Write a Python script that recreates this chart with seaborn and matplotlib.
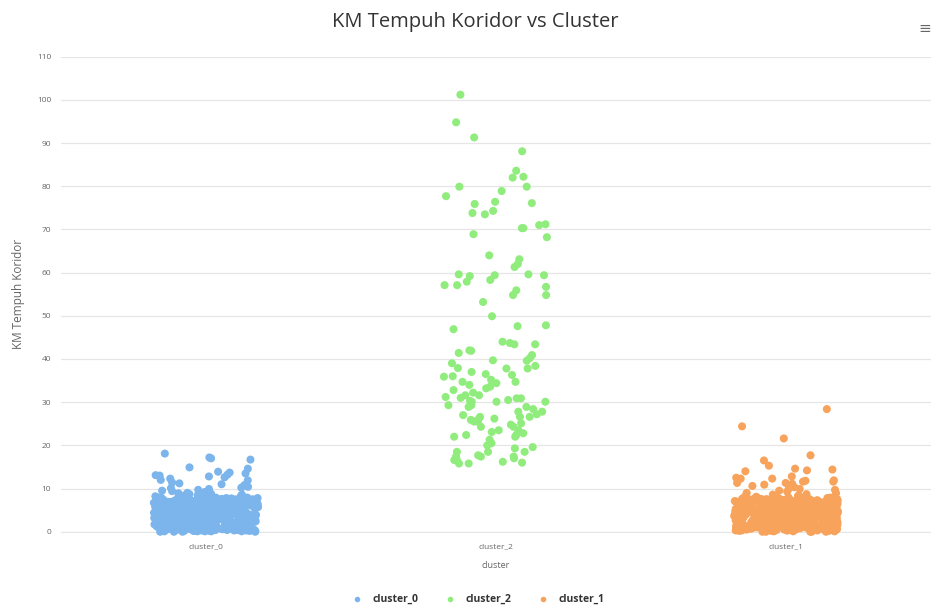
import numpy as np
import pandas as pd
import seaborn as sns
import matplotlib.pyplot as plt
from matplotlib.lines import Line2D

# urutan kategori dan warna (default Highcharts)
kategori = ["cluster_0", "cluster_2", "cluster_1"]
warna = ["#7cb5ec", "#90ed7d", "#f7a35c"]

# cluster_0 : pita padat 0-8 km, lalu beberapa titik di atasnya
km_cluster_0 = [
    0.1, 3.4, 5.9, 1.8, 7.2, 2.6, 4.8, 0.7, 6.5, 3.1, 1.2, 5.3, 7.6, 2.2, 4.1, 0.4, 6.1, 3.8, 1.5, 5.7,
    2.9, 7.0, 0.9, 4.5, 6.8, 1.9, 3.6, 5.1, 0.2, 7.4, 2.4, 4.9, 6.3, 1.1, 3.3, 5.5, 0.6, 7.7, 2.7, 4.3,
    6.0, 1.4, 3.9, 5.8, 0.3, 7.1, 2.1, 4.6, 6.6, 1.7, 3.5, 5.2, 0.8, 7.5, 2.5, 4.0, 6.4, 1.0, 3.0, 5.6,
    0.5, 7.3, 2.8, 4.4, 6.9, 1.6, 3.7, 5.0, 0.0, 7.8, 2.3, 4.7, 6.2, 1.3, 3.2, 5.4, 0.9, 7.2, 2.0, 4.2,
    5.1, 0.8, 6.7, 3.3, 1.9, 7.5, 4.0, 2.6, 6.1, 0.4, 5.6, 3.8, 1.1, 7.0, 4.5, 2.2, 6.8, 0.6, 5.3, 3.6,
    1.7, 6.3, 4.1, 0.2, 7.7, 2.9, 5.8, 1.4, 3.1, 6.6, 0.7, 4.8, 7.3, 2.4, 5.0, 1.0, 3.9, 6.0, 0.3, 7.4,
    4.6, 2.0, 7.1, 5.5, 0.9, 3.4, 6.4, 1.8, 4.3, 7.6, 2.7, 0.5, 5.9, 3.0, 6.9, 1.2, 4.9, 7.9, 2.1, 5.2,
    3.7, 6.2, 1.5, 4.4, 7.8, 0.1, 5.7, 2.8, 6.5, 3.5, 1.6, 7.2, 4.7, 0.8, 6.1, 2.5, 5.4, 1.3, 7.0, 3.2,
    0.6, 4.2, 6.9, 2.3, 5.0, 7.4, 1.9, 3.8, 0.4, 6.7, 4.5, 2.0, 7.7, 5.3, 1.1, 3.6, 6.3, 0.2, 4.8, 7.1,
    2.6, 5.8, 0.9, 7.5, 3.3, 1.4, 6.0, 4.1, 7.3, 2.2, 0.7, 5.5, 3.9, 6.6, 1.8, 7.8, 4.4, 2.9, 0.3, 6.2,
    5.6, 1.0, 3.1, 6.8, 0.5, 4.6, 7.6, 2.4, 5.1, 1.5, 6.4, 3.4, 0.0, 7.0, 4.0, 2.7, 5.9, 1.2, 6.7, 3.7,
    7.2, 3.0, 5.3, 1.7, 6.5, 4.3, 0.8, 7.9, 2.1, 4.9, 6.1, 0.6, 3.5, 5.7, 2.3, 7.4, 1.6, 4.7, 6.9, 0.4,
    1.3, 4.0, 6.6, 0.1, 3.2, 5.5, 7.1, 1.9, 4.2, 6.3, 2.8, 7.7, 0.9, 5.0, 3.6, 6.0, 1.4, 7.5, 2.5, 5.8,
    3.9, 7.3, 0.7, 5.2, 2.0, 6.8, 4.5, 1.1, 7.0, 3.3, 5.6, 0.3, 6.2, 2.6, 4.8, 1.7, 7.6, 3.1, 5.4, 0.5,
    0.2, 2.1, 4.3, 6.5, 7.7, 1.0, 3.2, 5.4, 7.3, 0.6, 2.8, 4.9, 6.1, 1.5, 3.7, 5.8, 7.0, 0.4, 2.5, 4.6,
    6.8, 1.3, 3.5, 5.6, 7.5, 0.8, 2.9, 4.0, 6.3, 1.8, 3.1, 5.2, 7.8, 0.1, 2.2, 4.4, 6.6, 1.6, 3.8, 5.0,
    7.4, 0.5, 2.6, 4.8, 6.0, 1.1, 3.4, 5.5, 7.1, 0.3, 2.0, 4.2, 6.4, 1.9, 3.6, 5.9, 7.6, 0.7, 2.4, 4.7,
    5.3, 6.7, 1.4, 3.0, 4.5, 0.9, 2.7, 6.2, 7.2, 1.2, 3.9, 5.1, 0.0, 2.3, 4.1, 6.9, 7.9, 1.7, 3.3, 5.7,
    3.6, 5.0, 7.0, 0.2, 1.8, 4.4, 6.1, 2.6, 7.5, 0.8, 3.1, 5.4, 6.6, 1.3, 2.9, 4.7, 7.3, 0.5, 2.0, 6.0,
    1.9, 4.1, 5.8, 7.7, 0.4, 3.3, 6.4, 2.2, 4.9, 0.7, 6.8, 1.5, 3.7, 5.2, 7.1, 0.1, 2.8, 4.5, 6.2, 1.0,
    4.8, 7.2, 0.9, 2.5, 5.6, 3.5, 1.2, 6.7, 4.0, 7.8, 2.1, 0.3, 5.3, 3.0, 6.3, 1.6, 4.3, 7.4, 2.7, 5.9,
    2.3, 0.6, 6.9, 4.6, 1.4, 7.6, 3.8, 5.1, 0.0, 2.9, 6.5, 4.2, 1.1, 7.0, 3.4, 5.7, 0.8, 2.4, 6.1, 3.9,
    6.4, 3.2, 1.7, 5.5, 7.3, 2.0, 4.4, 0.4, 6.8, 3.6, 1.3, 5.0, 7.7, 2.6, 0.9, 4.7, 6.0, 1.8, 3.1, 7.1,
    0.7, 5.3, 3.0, 7.5, 2.2, 6.6, 1.0, 4.9, 3.3, 5.8, 0.2, 7.2, 4.1, 1.5, 6.2, 2.8, 5.5, 0.6, 7.9, 4.3,
    8.1, 8.4, 8.7, 9.0, 8.3, 9.4, 8.9, 10.1, 8.2, 9.7, 8.6, 10.4, 9.2, 8.5, 10.8, 9.9, 8.8, 11.0, 9.5, 10.2,
    18.1, 17.2, 16.7, 17.0, 14.9, 13.7, 14.6, 13.9, 13.0, 13.5, 13.1, 12.6, 11.9, 12.3, 12.8, 13.2, 11.4, 11.2, 12.0,
]

# cluster_2 : tersebar 15-101 km
km_cluster_2 = [
    101.2, 94.8, 91.3, 88.1, 83.6, 82.2, 82.0, 79.9, 79.9, 78.9, 77.7, 76.4, 76.1, 74.3, 75.9,
    73.8, 73.5, 71.0, 71.2, 70.3, 68.2, 70.3, 68.9, 64.0, 63.1, 62.0, 61.3, 59.4, 59.6, 59.4,
    57.9, 56.7, 57.1, 54.8, 53.2, 59.6, 57.1, 58.3, 59.2, 55.9, 54.8, 49.9, 47.6, 47.8, 46.9,
    44.0, 43.4, 43.7, 41.9, 43.4, 42.0, 40.9, 39.7, 41.4, 40.2, 39.0, 39.6, 37.8, 38.4, 37.8,
    36.5, 37.9, 37.0, 35.9, 36.3, 36.0, 34.7, 34.0, 33.2, 34.7, 33.6, 34.4, 32.8, 31.6, 31.6,
    30.9, 31.2, 30.5, 30.9, 30.1, 29.3, 30.3, 28.9, 30.1, 29.3, 30.1, 28.9, 27.2, 27.8, 26.6,
    27.8, 26.2, 27.0, 26.6, 25.9, 26.6, 25.1, 25.5, 23.1, 23.5, 24.3, 23.5, 22.4, 25.5, 22.4,
    20.5, 23.1, 22.0, 24.3, 22.0, 19.3, 17.4, 16.2, 16.6, 15.8, 18.5, 17.4, 17.4, 18.5, 19.6,
    17.0, 16.0, 15.8, 16.6, 17.7, 18.5, 20.0, 22.8, 32.2, 28.4, 35.2, 31.0, 24.8, 21.3, 26.0,
]

# cluster_1 : pita padat 0-8 km, lalu beberapa titik sampai 28 km
km_cluster_1 = [
    0.3, 4.2, 6.6, 1.5, 7.9, 2.8, 5.1, 0.9, 6.0, 3.6, 1.0, 5.7, 7.3, 2.0, 4.4, 0.6, 6.8, 3.2, 1.7, 5.4,
    2.5, 7.6, 0.2, 4.9, 6.3, 1.3, 3.9, 5.5, 0.8, 7.1, 2.9, 4.6, 6.9, 1.8, 3.0, 5.0, 0.4, 7.8, 2.3, 4.0,
    6.4, 1.1, 3.5, 5.9, 0.0, 7.4, 2.6, 4.3, 6.2, 1.6, 3.8, 5.3, 0.7, 7.0, 2.1, 4.7, 6.7, 1.4, 3.3, 5.8,
    0.9, 7.2, 2.4, 4.1, 6.5, 1.9, 3.4, 5.6, 0.1, 7.7, 2.7, 4.8, 6.1, 1.2, 3.7, 5.2, 0.5, 7.5, 2.2, 4.5,
    5.0, 0.6, 6.9, 3.1, 1.4, 7.3, 4.2, 2.8, 6.4, 0.3, 5.9, 3.5, 1.6, 7.8, 4.6, 2.0, 6.6, 0.8, 5.5, 3.9,
    1.2, 6.0, 4.4, 0.4, 7.1, 2.5, 5.3, 1.7, 3.3, 6.8, 0.9, 4.0, 7.6, 2.9, 5.7, 1.5, 3.6, 6.3, 0.0, 7.0,
    4.9, 2.3, 7.4, 5.1, 0.7, 3.8, 6.1, 1.3, 4.7, 7.9, 2.1, 0.2, 5.6, 3.4, 6.7, 1.0, 4.3, 7.2, 2.6, 5.8,
    3.0, 6.5, 1.8, 4.5, 7.5, 0.5, 5.4, 2.4, 6.2, 3.7, 1.1, 7.7, 4.1, 0.8, 6.9, 2.7, 5.0, 1.9, 7.3, 3.2,
    0.2, 4.6, 6.3, 2.0, 5.2, 7.0, 1.5, 3.9, 0.6, 6.6, 4.8, 2.2, 7.8, 5.9, 1.4, 3.1, 6.0, 0.9, 4.3, 7.4,
    2.8, 5.5, 0.4, 7.2, 3.6, 1.7, 6.8, 4.0, 7.6, 2.5, 0.3, 5.1, 3.3, 6.4, 1.2, 7.9, 4.9, 2.1, 0.7, 6.1,
    5.3, 1.6, 3.4, 6.7, 0.1, 4.4, 7.1, 2.9, 5.7, 1.0, 6.5, 3.8, 0.5, 7.3, 4.2, 2.3, 5.8, 1.8, 6.2, 3.5,
    7.7, 3.1, 5.6, 1.3, 6.9, 4.7, 0.6, 7.5, 2.7, 4.1, 6.3, 0.0, 3.0, 5.4, 2.4, 7.0, 1.9, 4.5, 6.6, 0.8,
    1.6, 4.3, 6.1, 0.5, 3.7, 5.1, 7.4, 1.1, 4.8, 6.8, 2.2, 7.2, 0.3, 5.8, 3.2, 6.4, 1.0, 7.8, 2.6, 5.5,
    3.3, 7.0, 0.9, 5.9, 2.4, 6.2, 4.0, 1.4, 7.6, 3.9, 5.2, 0.7, 6.7, 2.0, 4.6, 1.3, 7.1, 3.6, 5.0, 0.2,
    0.4, 2.3, 4.5, 6.7, 7.8, 1.2, 3.0, 5.6, 7.2, 0.8, 2.6, 4.7, 6.3, 1.7, 3.5, 5.9, 7.1, 0.2, 2.7, 4.8,
    6.6, 1.5, 3.7, 5.4, 7.6, 0.6, 2.1, 4.2, 6.0, 1.9, 3.3, 5.0, 7.4, 0.0, 2.4, 4.6, 6.8, 1.4, 3.9, 5.2,
    7.3, 0.3, 2.8, 4.9, 6.2, 1.0, 3.6, 5.7, 7.0, 0.5, 2.2, 4.0, 6.5, 1.8, 3.2, 5.5, 7.7, 0.9, 2.5, 4.4,
    5.1, 6.9, 1.6, 3.1, 4.3, 0.7, 2.9, 6.4, 7.5, 1.1, 3.8, 5.3, 0.1, 2.0, 4.1, 6.7, 7.9, 1.3, 3.4, 5.8,
    3.5, 5.2, 7.2, 0.3, 1.6, 4.6, 6.3, 2.4, 7.4, 0.9, 3.0, 5.6, 6.5, 1.2, 2.8, 4.8, 7.0, 0.6, 2.1, 6.1,
    1.8, 4.0, 5.9, 7.5, 0.5, 3.4, 6.6, 2.3, 4.7, 0.8, 6.9, 1.4, 3.9, 5.0, 7.3, 0.2, 2.6, 4.3, 6.0, 1.1,
    4.9, 7.0, 0.7, 2.7, 5.4, 3.6, 1.0, 6.8, 4.2, 7.7, 2.0, 0.4, 5.1, 3.2, 6.1, 1.7, 4.5, 7.6, 2.9, 5.7,
    2.2, 0.9, 6.7, 4.4, 1.5, 7.8, 3.7, 5.3, 0.1, 3.1, 6.4, 4.0, 1.3, 7.1, 3.3, 5.5, 0.6, 2.5, 6.2, 3.8,
    6.3, 3.0, 1.9, 5.6, 7.2, 2.1, 4.6, 0.3, 6.9, 3.4, 1.2, 5.2, 7.5, 2.7, 0.8, 4.8, 6.1, 1.6, 3.2, 7.0,
    0.5, 5.0, 3.1, 7.4, 2.3, 6.5, 1.1, 4.7, 3.5, 5.9, 0.0, 7.3, 4.3, 1.4, 6.0, 2.9, 5.4, 0.7, 7.7, 4.1,
    8.3, 8.9, 9.3, 8.1, 10.0, 8.6, 9.7, 10.6, 8.4, 11.1, 9.0, 8.7, 10.3, 9.5, 11.6, 8.2, 9.9, 10.9, 11.3, 12.3, 11.8,
    28.4, 24.4, 21.6, 17.7, 16.5, 15.3, 14.4, 14.0, 14.6, 14.2, 11.6, 12.3, 11.9, 12.5, 11.3, 12.8,
]

yticks = list(range(0, 111, 10))

df = pd.concat([
    pd.DataFrame({"cluster": "cluster_0", "km": km_cluster_0}),
    pd.DataFrame({"cluster": "cluster_2", "km": km_cluster_2}),
    pd.DataFrame({"cluster": "cluster_1", "km": km_cluster_1}),
], ignore_index=True)

sns.set_style("white")
plt.rcParams["font.family"] = ["Open Sans", "DejaVu Sans"]

fig = plt.figure(figsize=(9.31, 6.07), dpi=100)
ax = fig.add_axes([0.0655, 0.124, 0.9345, 0.7826])

np.random.seed(3)
sns.stripplot(data=df, x="cluster", y="km", hue="cluster", order=kategori,
              hue_order=kategori, palette=warna, jitter=0.18, size=5.8,
              linewidth=0, legend=False, ax=ax)
for c in ax.collections:
    c.set_clip_on(False)

ax.set_xlim(-0.5, 2.5)
ax.set_ylim(0, 110)
ax.set_yticks(yticks)
ax.grid(axis="y", color="#e6e6e6", linewidth=0.9)
ax.set_axisbelow(True)
for s in ["top", "right", "left"]:
    ax.spines[s].set_visible(False)
ax.spines["bottom"].set_color("#e6e6e6")
ax.tick_params(axis="both", length=0, labelsize=6, labelcolor="#666666")
ax.tick_params(axis="y", pad=7)
ax.tick_params(axis="x", pad=8)

ax.set_xlabel("cluster", fontsize=6.5, color="#666666", labelpad=8)
ax.set_ylabel("KM Tempuh Koridor", fontsize=8.5, color="#666666", labelpad=9)

fig.text(0.511, 0.963, "KM Tempuh Koridor vs Cluster", ha="center", va="center",
         fontsize=14.5, color="#333333")
fig.text(1.0, 0.953, "\u2261", ha="right", va="center", fontsize=11,
         color="#666666", family="DejaVu Sans")

handles = [Line2D([], [], marker="o", linestyle="", markersize=4,
                  markerfacecolor=w, markeredgewidth=0) for w in warna]
leg = fig.legend(handles, kategori, loc="center", bbox_to_anchor=(0.511, 0.012),
                 ncol=3, frameon=False, handletextpad=0.5, columnspacing=2.0,
                 prop={"size": 7.5, "weight": "bold"})
for t in leg.get_texts():
    t.set_color("#333333")

fig.savefig("out.png", dpi=100)
